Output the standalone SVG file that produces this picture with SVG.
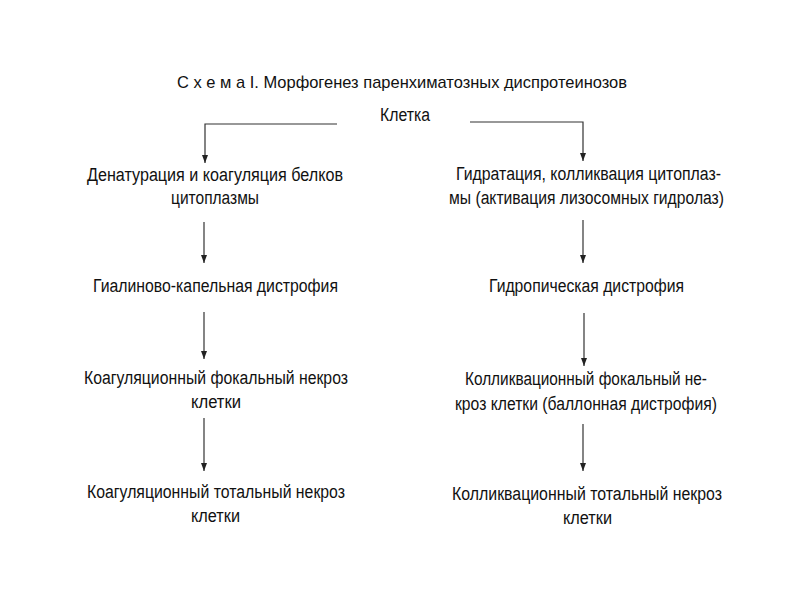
<svg xmlns="http://www.w3.org/2000/svg" width="800" height="600" viewBox="0 0 800 600">
<defs>
<marker id="ah" viewBox="0 0 8 6" refX="8" refY="3" markerWidth="8" markerHeight="6" markerUnits="userSpaceOnUse" orient="auto">
<path d="M0,0 L8,3 L0,6 Z" fill="#222"/>
</marker>
<style>
text{font-family:"Liberation Sans Narrow","Liberation Sans",Arial,sans-serif;font-size:18px;fill:#111;}
.t{font-size:17px;}
.c line,.c path{stroke:#333;stroke-width:1.2;fill:none;}
</style>
</defs>
<rect width="800" height="600" fill="#fff"/>
<g id="title"><text class="t" x="177" y="88" textLength="450" lengthAdjust="spacingAndGlyphs">С х е м а  I. Морфогенез паренхиматозных диспротеинозов</text></g>
<g id="cell"><text x="380" y="121" textLength="50" lengthAdjust="spacingAndGlyphs">Клетка</text></g>
<g class="c" id="connectors">
<path d="M337,124 H205 V163" marker-end="url(#ah)"/>
<path d="M470,122 H583 V161" marker-end="url(#ah)"/>
<line x1="204" y1="222" x2="204" y2="263" marker-end="url(#ah)"/>
<line x1="583" y1="220" x2="583" y2="263" marker-end="url(#ah)"/>
<line x1="204" y1="312" x2="204" y2="359" marker-end="url(#ah)"/>
<line x1="584" y1="313" x2="584" y2="366" marker-end="url(#ah)"/>
<line x1="204" y1="418" x2="204" y2="471" marker-end="url(#ah)"/>
<line x1="583" y1="424" x2="583" y2="471" marker-end="url(#ah)"/>
</g>
<g id="l1"><text x="87" y="181" textLength="256" lengthAdjust="spacingAndGlyphs">Денатурация и коагуляция белков</text><text x="171" y="204" textLength="88" lengthAdjust="spacingAndGlyphs">цитоплазмы</text></g>
<g id="r1"><text x="456" y="180" textLength="265" lengthAdjust="spacingAndGlyphs">Гидратация, колликвация цитоплаз-</text><text x="449" y="204" textLength="275" lengthAdjust="spacingAndGlyphs">мы (активация лизосомных гидролаз)</text></g>
<g id="l2"><text x="93" y="292" textLength="245" lengthAdjust="spacingAndGlyphs">Гиалиново-капельная дистрофия</text></g>
<g id="r2"><text x="489" y="292" textLength="195" lengthAdjust="spacingAndGlyphs">Гидропическая дистрофия</text></g>
<g id="l3"><text x="84" y="384" textLength="264" lengthAdjust="spacingAndGlyphs">Коагуляционный фокальный некроз</text><text x="191" y="408" textLength="50" lengthAdjust="spacingAndGlyphs">клетки</text></g>
<g id="r3"><text x="465" y="385" textLength="242" lengthAdjust="spacingAndGlyphs">Колликвационный фокальный не-</text><text x="455" y="410" textLength="262" lengthAdjust="spacingAndGlyphs">кроз клетки (баллонная дистрофия)</text></g>
<g id="l4"><text x="87" y="498" textLength="258" lengthAdjust="spacingAndGlyphs">Коагуляционный тотальный некроз</text><text x="191" y="522" textLength="49" lengthAdjust="spacingAndGlyphs">клетки</text></g>
<g id="r4"><text x="452" y="500" textLength="270" lengthAdjust="spacingAndGlyphs">Колликвационный тотальный некроз</text><text x="563" y="524" textLength="49" lengthAdjust="spacingAndGlyphs">клетки</text></g>
</svg>
